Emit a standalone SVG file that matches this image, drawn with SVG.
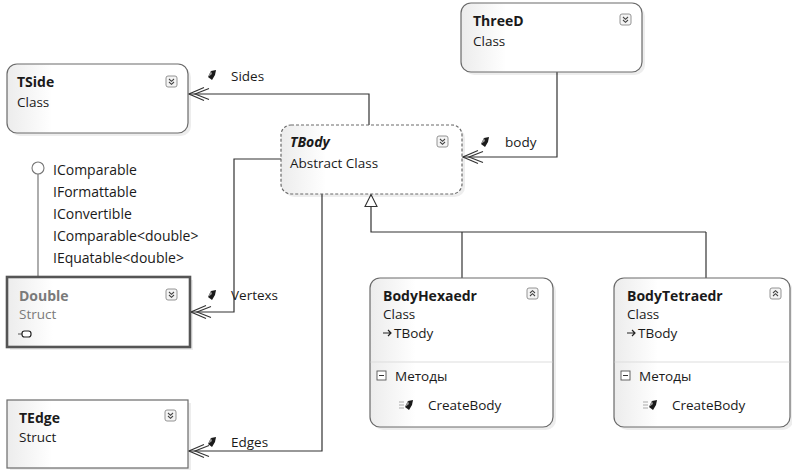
<svg xmlns="http://www.w3.org/2000/svg" width="792" height="470" viewBox="0 0 792 470">
<style>
text{font-family:"Open Sans","Noto Sans","Liberation Sans",sans-serif;font-size:13.5px;fill:#1a1a1a}
.t{font-weight:bold;font-size:14px}
.i{font-size:14px}
.g{fill:#7a7a7a}
.box{fill:url(#bg);stroke:#6a6a6a;stroke-width:1.2}
.sh{fill:#000;opacity:0.07}
.ln{fill:none;stroke:#333;stroke-width:1.2}
.ico{fill:#f4f4f4;stroke:#888;stroke-width:0.9}
.chev{fill:none;stroke:#444;stroke-width:1.1}
</style>
<defs>
<linearGradient id="bg" x1="0" y1="0" x2="1" y2="0">
<stop offset="0" stop-color="#ececec"/>
<stop offset="0.25" stop-color="#ffffff"/>
<stop offset="1" stop-color="#ffffff"/>
</linearGradient>
<marker id="assoc" viewBox="0 0 24 16" refX="23" refY="8" markerWidth="24" markerHeight="16" markerUnits="userSpaceOnUse" orient="auto">
<path d="M8,1.5 L23,8 L8,14.5 M3,2.5 L17,8 L3,13.5" fill="none" stroke="#333" stroke-width="1.1"/>
</marker>
<marker id="inh" viewBox="0 0 14 14" refX="13" refY="7" markerWidth="14" markerHeight="14" markerUnits="userSpaceOnUse" orient="auto">
<path d="M13,7 L1,1 L1,13 Z" fill="#fff" stroke="#333" stroke-width="1.1"/>
</marker>
<g id="dn"><rect x="0" y="0" width="11" height="11" rx="2" class="ico"/><path d="M3,3 L5.5,5.3 L8,3 M3,6 L5.5,8.3 L8,6" class="chev"/></g>
<g id="up"><rect x="0" y="0" width="11" height="11" rx="2" class="ico"/><path d="M3,5 L5.5,2.7 L8,5 M3,8 L5.5,5.7 L8,8" class="chev"/></g>
<g id="prop"><path d="M0,7 L3,1 L8,0 L7,5 L4,10 Z" fill="#1a1a1a"/><path d="M0,7 L3,1 L4,4 Z" fill="#999"/></g>
</defs>

<g id="connectors">
<polyline class="ln" points="369,125 369,94 189,94" marker-end="url(#assoc)"/>
<polyline class="ln" points="557,72 557,157 463,157" marker-end="url(#assoc)"/>
<polyline class="ln" points="281,159 234,159 234,312 191,312" marker-end="url(#assoc)"/>
<polyline class="ln" points="322,194 322,451 189,451" marker-end="url(#assoc)"/>
<polyline class="ln" points="371,207 371,232 706,232"/>
<line class="ln" x1="371" y1="207" x2="371" y2="194.5" marker-end="url(#inh)"/>
<line class="ln" x1="462" y1="232" x2="462" y2="278"/>
<line class="ln" x1="706" y1="232" x2="706" y2="278"/>
<line x1="38" y1="174" x2="38" y2="277" stroke="#777" stroke-width="1.2"/>
<circle cx="38" cy="168" r="6" fill="#fff" stroke="#777" stroke-width="1.1"/>
<use href="#prop" x="208" y="70"/>
<text x="231" y="81">Sides</text>
<use href="#prop" x="481" y="137"/>
<text x="505" y="147">body</text>
<use href="#prop" x="208" y="290"/>
<text x="231" y="300">Vertexs</text>
<use href="#prop" x="208" y="437"/>
<text x="231" y="447">Edges</text>
<text x="53" y="175" class="i">IComparable</text>
<text x="53" y="197" class="i">IFormattable</text>
<text x="53" y="219" class="i">IConvertible</text>
<text x="53" y="241" class="i">IComparable&lt;double&gt;</text>
<text x="53" y="263" class="i">IEquatable&lt;double&gt;</text>
</g>

<g id="TSide">
<rect x="10" y="67" width="181" height="69" rx="10" class="sh"/>
<rect x="7" y="64" width="181" height="69" rx="10" class="box"/>
<text x="17" y="87" class="t">TSide</text>
<text x="17" y="107">Class</text>
<use href="#dn" x="166" y="76"/>
</g>

<g id="ThreeD">
<rect x="464" y="6" width="181" height="69" rx="10" class="sh"/>
<rect x="461" y="3" width="181" height="69" rx="10" class="box"/>
<text x="473" y="26" class="t">ThreeD</text>
<text x="473" y="46">Class</text>
<use href="#dn" x="620" y="14"/>
</g>

<g id="TBody">
<rect x="284" y="128" width="181" height="69" rx="10" class="sh"/>
<rect x="281" y="125" width="181" height="69" rx="10" class="box" stroke-dasharray="3,2"/>
<text x="290" y="147" class="t" font-style="italic">TBody</text>
<text x="290" y="168">Abstract Class</text>
<use href="#dn" x="437" y="136"/>
</g>

<g id="Double">
<rect x="10" y="280" width="183" height="70" class="sh"/>
<rect x="7" y="277" width="183" height="70" fill="url(#bg)" stroke="#555" stroke-width="2.6"/>
<text x="19" y="301" class="t g">Double</text>
<text x="19" y="319" class="g">Struct</text>
<path d="M18,334 L22,334" stroke="#555" stroke-width="1"/>
<rect x="22" y="331" width="9" height="6" rx="2.5" fill="#fff" stroke="#222" stroke-width="1.2"/>
<use href="#dn" x="166" y="289"/>
</g>

<g id="TEdge">
<rect x="10" y="403" width="181" height="68" class="sh"/>
<rect x="7" y="400" width="181" height="68" class="box"/>
<text x="19" y="423" class="t">TEdge</text>
<text x="19" y="442">Struct</text>
<use href="#dn" x="165" y="410"/>
</g>

<g id="BodyHexaedr">
<rect x="373" y="281" width="183" height="149" rx="10" class="sh"/>
<rect x="370" y="278" width="183" height="149" rx="10" class="box"/>
<text x="383" y="301" class="t">BodyHexaedr</text>
<text x="383" y="319">Class</text>
<path d="M383,333 L391,333 M388,330 L391,333 L388,336" stroke="#222" stroke-width="1.2" fill="none"/>
<text x="394" y="338">TBody</text>
<line x1="370.6" y1="362" x2="552.4" y2="362" stroke="#ddd" stroke-width="1"/>
<rect x="377" y="371" width="9" height="9" fill="#fff" stroke="#555" stroke-width="0.9"/>
<line x1="379" y1="375.5" x2="384" y2="375.5" stroke="#333" stroke-width="1"/>
<text x="395" y="381">Методы</text>
<path d="M399,402 L404,402 M399,405 L404,405 M399,408 L404,408" stroke="#aaa" stroke-width="1"/>
<use href="#prop" x="405" y="400"/>
<text x="428" y="410">CreateBody</text>
<use href="#up" x="527" y="288"/>
</g>

<g id="BodyTetraedr">
<rect x="617" y="281" width="176" height="149" rx="10" class="sh"/>
<rect x="614" y="278" width="176" height="149" rx="10" class="box"/>
<text x="627" y="301" class="t">BodyTetraedr</text>
<text x="627" y="319">Class</text>
<path d="M627,333 L635,333 M632,330 L635,333 L632,336" stroke="#222" stroke-width="1.2" fill="none"/>
<text x="638" y="338">TBody</text>
<line x1="614.6" y1="362" x2="789.4" y2="362" stroke="#ddd" stroke-width="1"/>
<rect x="621" y="371" width="9" height="9" fill="#fff" stroke="#555" stroke-width="0.9"/>
<line x1="623" y1="375.5" x2="628" y2="375.5" stroke="#333" stroke-width="1"/>
<text x="639" y="381">Методы</text>
<path d="M643,402 L648,402 M643,405 L648,405 M643,408 L648,408" stroke="#aaa" stroke-width="1"/>
<use href="#prop" x="649" y="400"/>
<text x="672" y="410">CreateBody</text>
<use href="#up" x="770" y="288"/>
</g>
</svg>
